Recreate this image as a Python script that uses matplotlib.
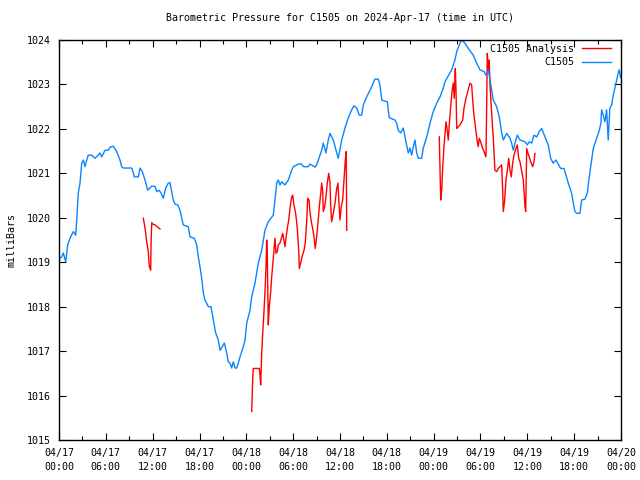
import numpy as np
import matplotlib
matplotlib.use('Agg')
import matplotlib.pyplot as plt
from matplotlib.ticker import MultipleLocator

nan = np.nan

# C1505 station data (hours since 2024-04-17 00:00 UTC, millibars)
blue_hours = [0.0, 0.13, 0.35, 0.55, 0.86, 1.11, 1.41, 1.83, 2.14, 2.27, 2.47, 2.69, 2.91,
              3.11, 3.33, 3.55, 3.75, 4.19, 4.61, 5.03, 5.25, 5.47, 5.89, 6.32, 6.53, 6.96,
              7.39, 7.81, 8.03, 8.24, 9.31, 9.52, 9.65, 10.16, 10.38, 10.67, 11.02, 11.36,
              11.88, 12.30, 12.52, 12.81, 13.07, 13.36, 13.67, 14.00, 14.22, 14.44, 14.64,
              14.86, 15.21, 15.50, 15.92, 16.56, 16.78, 17.33, 17.64, 17.85, 18.06, 18.28,
              18.49, 18.70, 19.13, 19.47, 19.77, 20.07, 20.41, 20.63, 20.92, 21.18, 21.48,
              21.69, 21.91, 22.12, 22.33, 22.55, 22.76, 22.97, 23.19, 23.61, 23.83, 24.05,
              24.47, 24.69, 25.11, 25.53, 25.97, 26.39, 26.81, 27.45, 27.67, 27.89, 28.09,
              28.31, 28.53, 28.95, 29.38, 29.81, 30.02, 30.66, 31.09, 31.30, 31.94, 32.15,
              32.80, 33.01, 33.44, 33.65, 33.86, 34.20, 34.50, 34.72, 35.14, 35.58, 35.78,
              36.22, 36.64, 37.06, 37.50, 37.79, 38.14, 38.47, 38.78, 38.98, 39.42, 40.06,
              40.48, 40.90, 41.12, 41.34, 42.06, 42.31, 43.04, 43.26, 43.47, 43.77, 44.11,
              44.45, 44.75, 44.97, 45.18, 45.39, 45.61, 45.82, 46.03, 46.46, 46.67, 47.11,
              47.53, 47.95, 48.39, 48.81, 49.23, 49.45, 49.87, 50.31, 50.73, 50.95, 51.37,
              51.59, 52.01, 52.43, 53.07, 53.51, 53.93, 54.45, 54.70, 55.00, 55.43, 55.64,
              56.07, 56.41, 56.72, 56.92, 57.35, 57.78, 57.99, 58.20, 58.42, 58.71, 59.06,
              59.70, 59.99, 60.25, 60.56, 60.85, 61.20, 61.53, 61.84, 62.26, 62.68, 62.99,
              63.32, 63.67, 63.96, 64.27, 64.69, 64.95, 65.25, 65.68, 65.89, 66.10, 66.32,
              66.74, 66.96, 67.38, 67.68, 67.93, 68.24, 68.45, 68.88, 69.22, 69.43, 69.52,
              69.73, 69.94, 70.16, 70.36, 70.57, 70.80, 71.01, 71.35, 71.64, 71.77, 71.95]
blue_mbar = [1019.00, 1019.10, 1019.12, 1019.21, 1019.01, 1019.39, 1019.54, 1019.69, 1019.61,
             1019.95, 1020.56, 1020.78, 1021.23, 1021.30, 1021.15, 1021.30, 1021.41, 1021.41,
             1021.34, 1021.41, 1021.46, 1021.37, 1021.52, 1021.52, 1021.59, 1021.61, 1021.49,
             1021.30, 1021.15, 1021.12, 1021.12, 1021.01, 1020.92, 1020.92, 1021.12, 1021.04,
             1020.85, 1020.62, 1020.71, 1020.71, 1020.59, 1020.62, 1020.56, 1020.44, 1020.67,
             1020.78, 1020.79, 1020.59, 1020.40, 1020.31, 1020.29, 1020.17, 1019.84, 1019.80,
             1019.57, 1019.54, 1019.39, 1019.12, 1018.90, 1018.64, 1018.31, 1018.15, 1018.00,
             1018.00, 1017.70, 1017.41, 1017.25, 1017.02, 1017.10, 1017.18, 1016.96, 1016.76,
             1016.73, 1016.62, 1016.76, 1016.62, 1016.62, 1016.73, 1016.87, 1017.10, 1017.25,
             1017.63, 1017.92, 1018.22, 1018.53, 1018.98, 1019.27, 1019.72, 1019.91, 1020.06,
             1020.40, 1020.78, 1020.85, 1020.74, 1020.81, 1020.74, 1020.85, 1021.07, 1021.15,
             1021.21, 1021.21, 1021.15, 1021.15, 1021.21, 1021.14, 1021.19, 1021.41, 1021.52,
             1021.68, 1021.46, 1021.75, 1021.90, 1021.75, 1021.46, 1021.34, 1021.75, 1022.02,
             1022.25, 1022.43, 1022.52, 1022.47, 1022.31, 1022.31, 1022.54, 1022.72, 1022.95,
             1023.12, 1023.12, 1022.99, 1022.65, 1022.61, 1022.25, 1022.20, 1022.13, 1021.97,
             1021.91, 1022.02, 1021.71, 1021.46, 1021.57, 1021.41, 1021.59, 1021.75, 1021.46,
             1021.34, 1021.34, 1021.57, 1021.82, 1022.13, 1022.39, 1022.58, 1022.72, 1022.92,
             1023.06, 1023.19, 1023.33, 1023.55, 1023.74, 1023.93, 1024.00, 1023.93, 1023.81,
             1023.66, 1023.48, 1023.33, 1023.29, 1023.21, 1023.33, 1022.88, 1022.65, 1022.50,
             1022.27, 1021.90, 1021.75, 1021.90, 1021.79, 1021.68, 1021.52, 1021.68, 1021.86,
             1021.75, 1021.71, 1021.64, 1021.71, 1021.68, 1021.86, 1021.82, 1021.94, 1022.01,
             1021.82, 1021.64, 1021.34, 1021.23, 1021.30, 1021.21, 1021.11, 1021.11, 1020.96,
             1020.78, 1020.55, 1020.33, 1020.14, 1020.10, 1020.10, 1020.40, 1020.42, 1020.55,
             1020.92, 1021.30, 1021.56, 1021.79, 1021.97, 1022.13, 1022.43, 1022.31, 1022.16,
             1022.43, 1021.75, 1022.46, 1022.54, 1022.76, 1023.03, 1023.25, 1023.33, 1023.15]

# analysis series, nan = missing data (gap)
red_hours = [10.80, 11.02, 11.24, 11.44, 11.57, 11.75, 11.79, 11.88, 12.08, 12.30, 12.64, 12.94,
             nan,
             24.69, 24.81, 24.89, 25.66, 25.75, 25.84, 25.97, 26.10, 26.26, 26.39, 26.52, 26.61,
             26.69, 26.81, 26.94, 27.12, 27.25, 27.38, 27.54, 27.67, 27.80, 27.97, 28.09, 28.31,
             28.53, 28.66, 28.95, 29.08, 29.25, 29.43, 29.59, 29.81, 29.94, 30.10, 30.32, 30.53,
             30.71, 30.79, 30.96, 31.13, 31.39, 31.55, 31.73, 31.86, 32.03, 32.15, 32.32, 32.50,
             32.67, 32.83, 33.01, 33.18, 33.35, 33.53, 33.65, 33.78, 33.86, 34.04, 34.20, 34.37,
             34.55, 34.72, 34.80, 34.93, 35.14, 35.36, 35.58, 35.74, 35.87, 36.00, 36.16, 36.34,
             36.51, 36.68, 36.80, 36.86,
             nan,
             48.72, 48.81, 48.90, 49.03, 49.15, 49.32, 49.58, 49.74, 49.87, 50.00, 50.18, 50.35,
             50.51, 50.64, 50.77, 50.86, 50.95, 51.37, 51.72, 51.88, 52.14, 52.43, 52.65, 52.87,
             53.00, 53.16, 53.42, 53.59, 53.71, 53.84, 54.02, 54.28, 54.45, 54.70, 54.79, 54.87,
             55.00, 55.12, 55.21, 55.43, 55.64, 55.85, 56.07, 56.28, 56.71, 56.84, 56.92, 57.10,
             57.26, 57.43, 57.61, 57.78, 57.94, 58.12, 58.29, 58.54, 58.71, 58.89, 59.06, 59.28,
             59.48, 59.70, 59.79, 59.92, 60.09, 60.25, 60.43, 60.69, 60.85, 60.98]
red_mbar = [1019.99, 1019.77, 1019.46, 1019.24, 1018.90, 1018.82, 1019.39, 1019.89, 1019.85,
            1019.84, 1019.79, 1019.75,
            nan,
            1015.64, 1016.35, 1016.61, 1016.61, 1016.46, 1016.24, 1016.96, 1017.41, 1017.89,
            1018.34, 1018.90, 1019.50, 1019.12, 1017.59, 1018.00, 1018.34, 1018.67, 1018.94,
            1019.27, 1019.54, 1019.20, 1019.24, 1019.39, 1019.43, 1019.57, 1019.65, 1019.35,
            1019.54, 1019.76, 1019.95, 1020.21, 1020.47, 1020.51, 1020.29, 1020.10, 1019.76,
            1019.27, 1018.86, 1018.98, 1019.12, 1019.27, 1019.43, 1019.91, 1020.44, 1020.40,
            1020.14, 1019.91, 1019.76, 1019.57, 1019.31, 1019.57, 1019.88, 1020.25, 1020.55,
            1020.78, 1020.62, 1020.14, 1020.25, 1020.47, 1020.78, 1021.00, 1020.78, 1020.29,
            1019.91, 1020.10, 1020.33, 1020.66, 1020.78, 1020.33, 1019.95, 1020.25, 1020.40,
            1020.85, 1021.30, 1021.49, 1019.72,
            nan,
            1021.82, 1021.11, 1020.40, 1020.62, 1021.11, 1021.60, 1022.16, 1021.97, 1021.75,
            1022.09, 1022.50, 1022.84, 1023.03, 1022.69, 1023.36, 1022.91, 1022.01, 1022.09,
            1022.20, 1022.46, 1022.69, 1022.88, 1023.03, 1022.99, 1022.65, 1022.31, 1021.94,
            1021.71, 1021.60, 1021.79, 1021.71, 1021.56, 1021.49, 1021.37, 1022.50, 1023.70,
            1023.33, 1023.55, 1023.03, 1022.35, 1021.79, 1021.07, 1021.04, 1021.11, 1021.19,
            1020.62, 1020.14, 1020.40, 1020.85, 1021.04, 1021.34, 1021.07, 1020.92, 1021.23,
            1021.41, 1021.56, 1021.64, 1021.34, 1021.26, 1021.04, 1020.85, 1020.25, 1020.14,
            1021.56, 1021.45, 1021.37, 1021.26, 1021.15, 1021.26, 1021.45]

tick_hours = list(range(0, 73, 6))
tick_labels = ['04/17\n00:00', '04/17\n06:00', '04/17\n12:00', '04/17\n18:00',
               '04/18\n00:00', '04/18\n06:00', '04/18\n12:00', '04/18\n18:00',
               '04/19\n00:00', '04/19\n06:00', '04/19\n12:00', '04/19\n18:00',
               '04/20\n00:00']

plt.rcParams['font.family'] = 'DejaVu Sans Mono'
plt.rcParams['font.size'] = 7.2

fig = plt.figure(figsize=(6.4, 4.8), dpi=100)
ax = fig.add_axes([0.0922, 0.0833, 0.8781, 0.8333])

ax.plot(red_hours, red_mbar, color='#ff0000', lw=1.0, label='C1505 Analysis')
ax.plot(blue_hours, blue_mbar, color='#0a84ff', lw=1.0, label='C1505')

ax.set_xlim(0, 72)
ax.set_ylim(1015, 1024)
ax.set_xticks(tick_hours)
ax.set_xticklabels(tick_labels, linespacing=1.45)
ax.xaxis.set_minor_locator(MultipleLocator(3))
ax.yaxis.set_major_locator(MultipleLocator(1))
ax.tick_params(which='both', direction='in', top=True, right=True, width=0.8, color='black')
ax.tick_params(which='major', length=5)
ax.tick_params(axis='x', which='major', pad=6)
ax.tick_params(axis='y', which='major', pad=6)
ax.tick_params(which='minor', length=3)
for s in ax.spines.values():
    s.set_linewidth(1.0)

ax.set_title('Barometric Pressure for C1505 on 2024-Apr-17 (time in UTC)', fontsize=7.2, pad=14)
ax.set_ylabel('milliBars', labelpad=7)

ax.legend(loc='upper right', bbox_to_anchor=(1.0, 1.016), frameon=False, markerfirst=False,
          handlelength=2.9, borderaxespad=0.7, labelspacing=0.35, handletextpad=0.8,
          borderpad=0.3)

fig.savefig('out.png', dpi=100)
